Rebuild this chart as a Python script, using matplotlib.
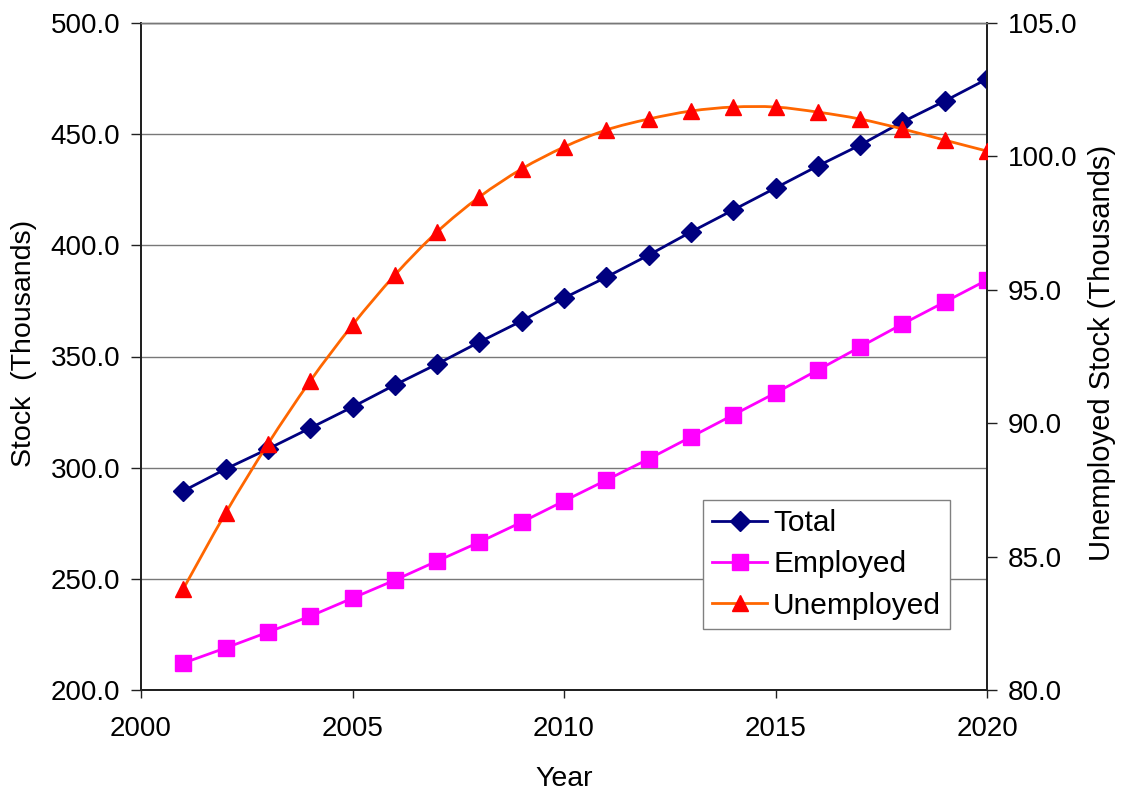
import numpy as np
import matplotlib
matplotlib.use("Agg")
import matplotlib.pyplot as plt
from matplotlib.path import Path
from matplotlib.patches import PathPatch
from matplotlib.lines import Line2D
from matplotlib.ticker import FormatStrFormatter, MultipleLocator

plt.rcParams['font.family'] = ['Liberation Sans', 'DejaVu Sans']

# stock projections, thousands
years = [2001, 2002, 2003, 2004, 2005, 2006, 2007, 2008, 2009, 2010,
         2011, 2012, 2013, 2014, 2015, 2016, 2017, 2018, 2019, 2020]
total = [289.5, 299.4, 308.4, 317.8, 327.3, 337.2, 346.6, 356.5, 366.0, 376.3,
         385.7, 395.6, 406.0, 415.9, 425.8, 435.7, 445.1, 455.5, 464.9, 474.8]
employed = [212.1, 218.9, 226.0, 233.2, 241.3, 249.4, 258.0, 266.5, 275.5, 285.0,
            294.4, 303.9, 313.8, 323.7, 333.6, 343.9, 354.3, 364.6, 374.5, 384.4]
unemployed = [83.79, 86.63, 89.22, 91.58, 93.68, 95.55, 97.17, 98.48, 99.53, 100.35,
              100.99, 101.40, 101.70, 101.85, 101.85, 101.66, 101.40, 101.03, 100.61, 100.20]

NAVY = '#000080'
MAGENTA = '#FF00FF'
ORANGE = '#FF6600'
RED = '#FF0000'
LW = 2.0


def smooth_path(x, y):
    # cubic bezier through every point (catmull-rom style tangents)
    pts = np.column_stack([x, y]).astype(float)
    ext = np.vstack([pts[0], pts, pts[-1]])
    verts = [pts[0]]
    codes = [Path.MOVETO]
    for i in range(len(pts) - 1):
        p0, p1, p2, p3 = ext[i], ext[i + 1], ext[i + 2], ext[i + 3]
        verts += [p1 + (p2 - p0) / 6, p2 - (p3 - p1) / 6, p2]
        codes += [Path.CURVE4] * 3
    return Path(verts, codes)


fig = plt.figure(figsize=(11.24, 7.92), dpi=100)
ax = fig.add_axes([141 / 1124, 1 - 690 / 792, 846 / 1124, 667 / 792])
ax2 = ax.twinx()

tot_style = dict(color=NAVY, lw=LW, marker='D', ms=10, mfc=NAVY, mec=NAVY)
emp_style = dict(color=MAGENTA, lw=LW, marker='s', ms=11.5, mfc=MAGENTA, mec=MAGENTA)
une_style = dict(color=ORANGE, lw=LW, marker='^', ms=12, mfc=RED, mec=RED)

ax.plot(years, total, zorder=3, **tot_style)
ax.plot(years, employed, zorder=3, **emp_style)

ax2.add_patch(PathPatch(smooth_path(years, unemployed), facecolor='none',
                        edgecolor=ORANGE, lw=LW, zorder=2))
ax2.plot(years, unemployed, ls='none', marker='^', ms=12,
         mfc=RED, mec=RED, zorder=3)

ax.set_xlim(2000, 2020)
ax.set_ylim(200, 500)
ax2.set_ylim(80, 105)
ax.xaxis.set_major_locator(MultipleLocator(5))
ax.yaxis.set_major_locator(MultipleLocator(50))
ax2.yaxis.set_major_locator(MultipleLocator(5))
ax.yaxis.set_major_formatter(FormatStrFormatter('%.1f'))
ax2.yaxis.set_major_formatter(FormatStrFormatter('%.1f'))

ax.yaxis.grid(True, color='#787878', lw=1.0)
ax.set_axisbelow(True)
for a in (ax, ax2):
    a.spines['top'].set_color('#787878')
    a.spines['top'].set_linewidth(1.0)
    for s in ('left', 'right', 'bottom'):
        a.spines[s].set_color('#202020')
        a.spines[s].set_linewidth(1.3)
    a.set_facecolor('none')

ax.tick_params(axis='y', direction='out', length=7, width=1, color='#202020',
               labelsize=20, pad=8)
ax.tick_params(axis='x', direction='out', length=6, width=1, color='#202020',
               labelsize=20, pad=13)
ax2.tick_params(axis='y', direction='out', length=7, width=1, color='#202020',
                labelsize=20, pad=8)

fig.text(564 / 1124, 1 - 786 / 792, 'Year', ha='center', va='baseline', fontsize=20.5)
fig.text(24 / 1124, 1 - 343 / 792, 'Stock  (Thousands)', ha='center', va='center',
         rotation=90, fontsize=20.5)
fig.text(1102 / 1124, 1 - 353 / 792, 'Unemployed Stock (Thousands)', ha='center',
         va='center', rotation=90, fontsize=21)

handles = [Line2D([], [], **tot_style), Line2D([], [], **emp_style),
           Line2D([], [], **une_style)]
leg = ax2.legend(handles, ['Total', 'Employed', 'Unemployed'],
                 loc='upper left', bbox_to_anchor=(703 / 1124, 1 - 500 / 792),
                 bbox_transform=fig.transFigure, borderaxespad=0,
                 fontsize=21.5, handlelength=1.85, handletextpad=0.2,
                 borderpad=0.3, labelspacing=0.45, fancybox=False,
                 framealpha=1, edgecolor='#808080')
leg.get_frame().set_linewidth(1.0)

fig.savefig('out.png', dpi=100, facecolor='white')
